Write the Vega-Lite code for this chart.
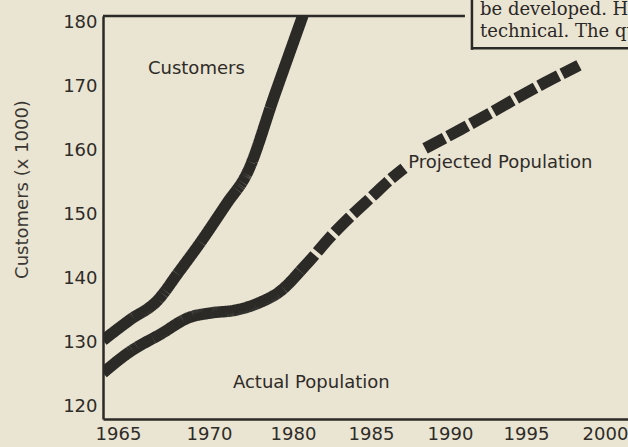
{
  "$schema": "https://vega.github.io/schema/vega-lite/v6.json",
  "width": 525,
  "height": 403,
  "autosize": {"type": "none"},
  "padding": {"left": 103, "top": 16, "right": 0, "bottom": 28},
  "background": "#eae4d2",
  "config": {"view": {"stroke": null}, "font": "DejaVu Sans"},
  "datasets": {
    "lines": [
      {"series": "Customers", "year": 1965.0, "value": 130.3},
      {"series": "Customers", "year": 1966.48, "value": 133.5},
      {"series": "Customers", "year": 1968.02, "value": 136.6},
      {"series": "Customers", "year": 1969.12, "value": 140.8},
      {"series": "Customers", "year": 1970.71, "value": 145.5},
      {"series": "Customers", "year": 1973.93, "value": 151.75},
      {"series": "Customers", "year": 1976.31, "value": 156.4},
      {"series": "Customers", "year": 1979.64, "value": 168.8},
      {"series": "Customers", "year": 1981.6, "value": 181.1},
      {"series": "Actual Population", "year": 1965.0, "value": 125.2},
      {"series": "Actual Population", "year": 1966.37, "value": 128.3},
      {"series": "Actual Population", "year": 1968.24, "value": 131.4},
      {"series": "Actual Population", "year": 1969.67, "value": 133.8},
      {"series": "Actual Population", "year": 1972.14, "value": 134.6},
      {"series": "Actual Population", "year": 1974.88, "value": 135.0},
      {"series": "Actual Population", "year": 1977.62, "value": 136.1},
      {"series": "Actual Population", "year": 1980.26, "value": 138.2},
      {"series": "Actual Population", "year": 1981.41, "value": 141.1},
      {"series": "Projected Population", "segment": 1, "year": 1981.41, "value": 141.1},
      {"series": "Projected Population", "segment": 1, "year": 1982.05, "value": 142.8},
      {"series": "Projected Population", "segment": 1, "year": 1983.33, "value": 146.4},
      {"series": "Projected Population", "segment": 1, "year": 1984.62, "value": 149.6},
      {"series": "Projected Population", "segment": 1, "year": 1985.89, "value": 152.5},
      {"series": "Projected Population", "segment": 1, "year": 1987.34, "value": 155.8},
      {"series": "Projected Population", "segment": 1, "year": 1988.04, "value": 157.2},
      {"series": "Projected Population", "segment": 2, "year": 1989.37, "value": 160.3},
      {"series": "Projected Population", "segment": 2, "year": 1991.64, "value": 163.2},
      {"series": "Projected Population", "segment": 2, "year": 1993.62, "value": 165.8},
      {"series": "Projected Population", "segment": 2, "year": 1995.39, "value": 168.2},
      {"series": "Projected Population", "segment": 2, "year": 1997.09, "value": 170.5},
      {"series": "Projected Population", "segment": 2, "year": 1998.67, "value": 172.5},
      {"series": "Projected Population", "segment": 2, "year": 1999.3, "value": 173.3}
    ],
    "labels": [
      {"label": "Customers", "year": 1967.47, "value": 172.7},
      {"label": "Projected Population", "year": 1988.3, "value": 158.0},
      {"label": "Actual Population", "year": 1974.64, "value": 123.6}
    ],
    "pagetext": [
      {"label": "be developed. H", "year": 1992.96, "value": 181.9},
      {"label": "technical. The qu", "year": 1992.96, "value": 178.5}
    ],
    "frame": [
      {"year": 1965, "year2": 1991.97, "value": 181, "value2": 181},
      {"year": 1992.43, "year2": 1992.43, "value": 183.6, "value2": 175.7},
      {"year": 1992.43, "year2": 2002.4, "value": 175.97, "value2": 175.97}
    ]
  },
  "encoding": {
    "x": {
      "field": "year",
      "type": "quantitative",
      "scale": {
        "domain": [1965, 1970, 1980, 1985, 1990, 1995, 2000, 2002.4],
        "range": [0, 91, 175, 253, 332, 408, 487, 525],
        "nice": false,
        "zero": false
      },
      "axis": {
        "values": [1965, 1970, 1980, 1985, 1990, 1995, 2000],
        "format": "d",
        "title": null,
        "ticks": false,
        "grid": false,
        "labelOffset": 15,
        "labelPadding": 6,
        "labelFontSize": 18,
        "labelColor": "#2e2c28",
        "labelFlush": false,
        "labelOverlap": false,
        "labelBound": false,
        "domainColor": "#2b2a27",
        "domainWidth": 2.5
      }
    },
    "y": {
      "field": "value",
      "type": "quantitative",
      "scale": {"domain": [118, 181], "nice": false, "zero": false},
      "axis": {
        "values": [120, 130, 140, 150, 160, 170, 180],
        "ticks": false,
        "grid": false,
        "labelPadding": 6,
        "labelFontSize": 18,
        "labelColor": "#2e2c28",
        "labelFlush": false,
        "domainColor": "#2b2a27",
        "domainWidth": 2.5,
        "title": "Customers (x 1000)",
        "titleFontSize": 18,
        "titleFontWeight": "normal",
        "titleColor": "#3a3833",
        "titleX": -81,
        "titleY": 173,
        "titleAngle": -90,
        "titleAlign": "center",
        "titleBaseline": "middle"
      }
    }
  },
  "layer": [
    {
      "data": {"name": "lines"},
      "mark": {"type": "line", "interpolate": "monotone", "strokeWidth": 11.5, "color": "#2b2a27", "clip": true, "strokeCap": "butt"},
      "encoding": {
        "detail": [{"field": "series"}, {"field": "segment"}],
        "strokeDash": {
          "field": "series",
          "type": "nominal",
          "scale": {
            "domain": ["Customers", "Actual Population", "Projected Population"],
            "range": [[1, 0], [1, 0], [22, 4]]
          },
          "legend": null
        }
      }
    },
    {
      "data": {"name": "frame"},
      "mark": {"type": "rule", "strokeWidth": 2.5, "color": "#2b2a27"},
      "encoding": {
        "x2": {"field": "year2"},
        "y2": {"field": "value2"}
      }
    },
    {
      "data": {"name": "labels"},
      "mark": {"type": "text", "align": "left", "baseline": "middle", "fontSize": 18, "font": "DejaVu Sans", "color": "#2e2c28"},
      "encoding": {"text": {"field": "label"}}
    },
    {
      "data": {"name": "pagetext"},
      "mark": {"type": "text", "align": "left", "baseline": "middle", "fontSize": 18, "font": "DejaVu Serif", "color": "#2a2826"},
      "encoding": {"text": {"field": "label"}}
    }
  ]
}
